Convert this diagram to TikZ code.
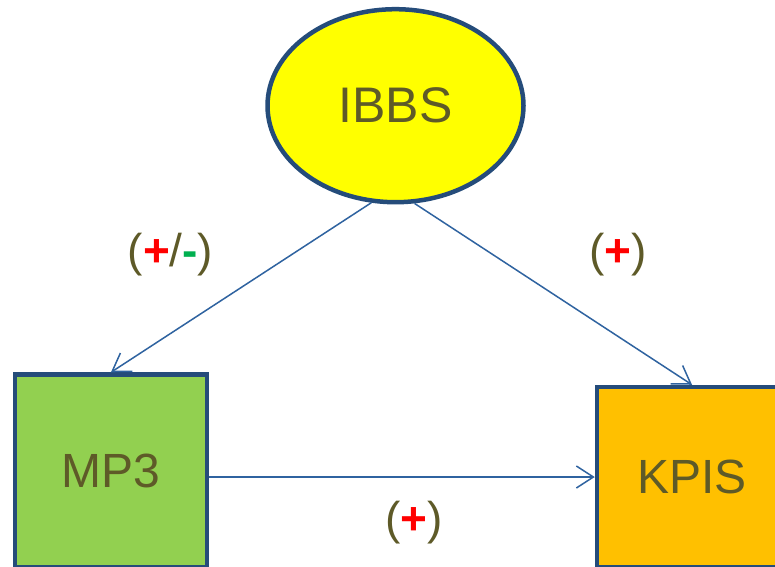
\documentclass[tikz,border=0pt]{standalone}
\usepackage{fontspec}
\setmainfont{Liberation Sans}
\usetikzlibrary{shapes.geometric,arrows.meta}
\definecolor{bordblue}{RGB}{37,76,122}
\definecolor{arrblue}{RGB}{47,99,160}
\definecolor{olivetxt}{RGB}{94,90,40}
\definecolor{boxyellow}{RGB}{255,255,0}
\definecolor{boxgreen}{RGB}{146,208,80}
\definecolor{boxorange}{RGB}{255,192,0}
\definecolor{plusred}{RGB}{255,0,0}
\definecolor{minusgreen}{RGB}{0,176,80}
\tikzset{
  varbox/.style={draw=bordblue, line width=4.5pt, text=olivetxt, inner sep=0pt,
    font=\fontsize{48}{56}\selectfont},
  conn/.style={draw=arrblue, line width=1.5pt, -{Straight Barb[length=17pt,width=22pt,line width=1.5pt]}},
  signlbl/.style={text=olivetxt, inner sep=0pt, font=\fontsize{46}{54}\selectfont}
}
\newcommand{\plussign}{\textcolor{plusred}{\textbf{+}}}
\newcommand{\minussign}{\textcolor{minusgreen}{\textbf{-}}}
\begin{document}
\begin{tikzpicture}[x=1pt,y=-1pt]
\useasboundingbox (0,0) rectangle (775,566);
\clip (0,0) rectangle (775,566);
\fill[white] (0,0) rectangle (775,566);
\node[ellipse, varbox, fill=boxyellow, minimum width=256pt, minimum height=193pt,
  font=\fontsize{50}{58}\selectfont] (ibbs) at (395.5,105.7) {IBBS};
\node[rectangle, varbox, fill=boxgreen, minimum width=192pt, minimum height=193pt] (mp3) at (111,471) {MP3};
\node[rectangle, varbox, fill=boxorange, minimum width=190pt, minimum height=180pt] (kpis) at (692,477) {KPIS};
\draw[conn] (ibbs.256.9) -- (mp3.north);
\draw[conn] (ibbs.281.4) -- (kpis.north);
\draw[conn] (mp3.east |- kpis.west) -- (kpis.west);
\node[signlbl] (l1) at (170.5,255) {(\plussign/\minussign)};
\node[signlbl] (l2) at (618,255) {(\plussign)};
\node[signlbl] (l3) at (414,523) {(\plussign)};
\end{tikzpicture}
\end{document}
